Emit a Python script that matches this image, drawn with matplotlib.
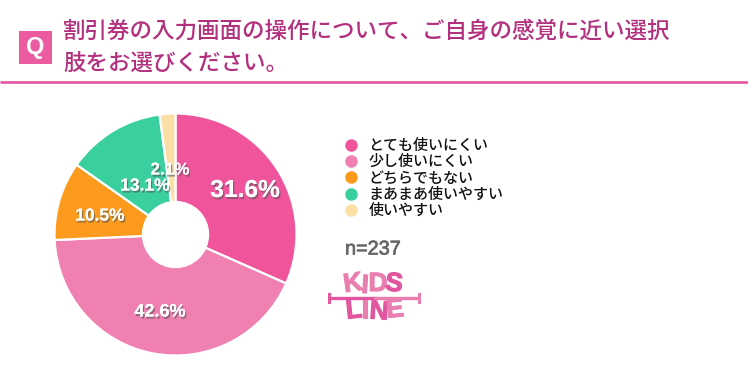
import matplotlib
matplotlib.use("Agg")
import matplotlib.pyplot as plt
import matplotlib.patheffects as pe
from matplotlib.lines import Line2D
from matplotlib.patches import Rectangle

plt.rcParams['font.family'] = ['Noto Sans CJK JP', 'DejaVu Sans']

categories = ["とても使いにくい", "少し使いにくい", "どちらでもない", "まあまあ使いやすい", "使いやすい"]
values = [31.6, 42.6, 10.5, 13.1, 2.1]
colors = ["#f0559c", "#f07fb2", "#fb9a1c", "#3acf9f", "#fbe0a6"]
value_labels = ["31.6%", "42.6%", "10.5%", "13.1%", "2.1%"]
title_lines = ["割引券の入力画面の操作について、ご自身の感覚に近い選択", "肢をお選びください。"]
sample = "n=237"

W, H = 748, 379
fig = plt.figure(figsize=(W / 100, H / 100), dpi=100)
ax = fig.add_axes([0, 0, 1, 1])

# pie, centre and radius in pixels
cx, cy, radius, hole = 175.5, H - 234.5, 121, 33
wedges, _ = ax.pie(values, colors=colors, startangle=90, counterclock=False,
                   center=(cx, cy), radius=radius, frame=True,
                   wedgeprops=dict(edgecolor="white", linewidth=1.6))
ax.add_patch(plt.Circle((cx, cy), hole, color="white", zorder=5))

ax.set_xlim(0, W)
ax.set_ylim(0, H)
ax.set_aspect("equal")
ax.axis("off")

# percent labels with a soft shadow
shadow = [pe.withSimplePatchShadow(offset=(1, -1.5), shadow_rgbFace="#555555", alpha=0.6), pe.Normal()]
label_pos = [(245, 190), (160, 312), (100, 216), (145, 186), (170, 170)]
label_size = [17.7, 13, 12.5, 12.5, 12.3]
for txt, (x, y), s in zip(value_labels, label_pos, label_size):
    ax.text(x, H - y, txt, color="white", fontsize=s, fontweight="bold", ha="center", va="center",
            family="Liberation Sans", path_effects=shadow, zorder=6)

# header
ax.add_patch(Rectangle((19, H - 64), 33, 33, color="#ea5ba0", lw=0))
ax.text(35.5, H - 47.5, "Q", color="white", fontsize=17, fontweight="bold", ha="center", va="center",
        family="Liberation Sans")
ax.text(63, H - 31, title_lines[0], color="#b3307f", fontsize=16.2, va="center", fontweight="medium")
ax.text(63, H - 64.5, title_lines[1], color="#b3307f", fontsize=16.2, va="center", fontweight="medium")
ax.plot([0, W], [H - 81.5, H - 81.5], color="#e2559f", lw=1.9, solid_capstyle="butt")

# legend
handles = [Line2D([], [], marker="o", ls="", ms=8, color=c) for c in colors]
leg = ax.legend(handles, categories, loc="upper left", bbox_to_anchor=(339 / W, 1 - 137 / H),
                frameon=False, fontsize=10.8, labelspacing=-0.05, handletextpad=0.35,
                borderpad=0, borderaxespad=0, handlelength=1.6)
for t in leg.get_texts():
    t.set_fontweight("medium")
    t.set_color("#111111")

ax.text(345, H - 249, sample, color="#666666", fontsize=14.3, va="center",
        family="Liberation Sans", path_effects=[pe.withStroke(linewidth=0.5, foreground="#666666")])

# logo, letters set one by one
logo_letters = [("K", 353, 284, 8, "#e87fb0"), ("I", 365, 286, -4, "#e87fb0"), ("D", 378, 284, 0, "#e87fb0"),
                ("S", 394, 284, -6, "#e2559f"), ("L", 354, 311, 6, "#e2559f"), ("I", 365, 311, 0, "#e87fb0"),
                ("N", 379, 312, -4, "#e2559f"), ("E", 395, 310, 6, "#e87fb0")]
for ch, x, y, rot, c in logo_letters:
    ax.text(x, H - y, ch, color=c, fontsize=19, fontweight="bold", ha="center", va="center", rotation=rot,
            family="Liberation Sans", path_effects=[pe.withStroke(linewidth=0.8, foreground=c)])
ax.plot([331, 375], [H - 298, H - 298], color="#e2559f", lw=2.4)
ax.plot([375, 418], [H - 298, H - 298], color="#e87fb0", lw=2.4)
ax.plot([329, 329], [H - 294, H - 302], color="#e2559f", lw=2.2)
ax.plot([419, 419], [H - 294, H - 302], color="#e87fb0", lw=2.2)

fig.savefig("out.png", dpi=100)
